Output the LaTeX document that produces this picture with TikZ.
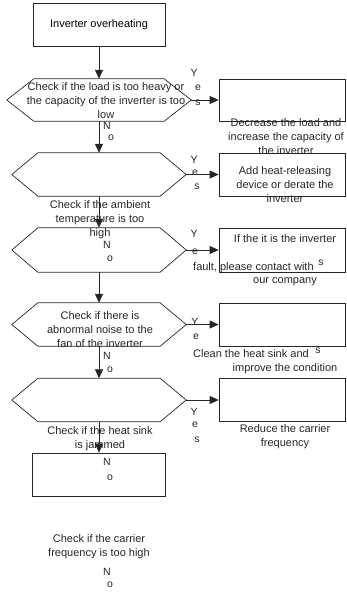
\documentclass[tikz,border=0pt]{standalone}
\usepackage{fontspec}
\setmainfont{Liberation Sans}
\usetikzlibrary{arrows.meta, positioning, calc}

\begin{document}
\begin{tikzpicture}[x=1pt, y=-1pt,
    procbox/.style={draw=black!85, line width=0.7pt, minimum width=126pt,
                    minimum height=43pt, inner sep=0pt, font=\fontsize{11}{14}\selectfont},
    hexbox/.style={minimum width=122pt, minimum height=43pt, inner sep=0pt},
    txt/.style={align=center, inner sep=0pt, text=black!85,
                font=\fontsize{11}{14}\selectfont},
    yn/.style={inner sep=0pt, text=black!85, font=\fontsize{10.5}{12}\selectfont},
    flow/.style={draw=black!85, line width=0.7pt, -{Triangle[length=9pt, width=8pt]}},
]
\useasboundingbox (0,0) rectangle (346,592);

% main column
\node[procbox, minimum width=132pt] (B0) at (99,24.5) {Inverter overheating};
\node[hexbox, minimum width=130pt, minimum height=42pt] (H1) at (99,100) {};
\node[hexbox] (H2) at (99,174.5) {};
\node[hexbox, minimum height=44pt] (H3) at (99,250) {};
\node[hexbox] (H4) at (99,324.5) {};
\node[hexbox] (H5) at (99,400) {};
\node[procbox, minimum width=133pt] (B6) at (99,474.5) {};

% hexagon outlines round the decision nodes
\foreach \h/\s in {H1/27,H2/26,H3/26,H4/26,H5/26} {
  \coordinate (\h-w) at ([xshift=-\s pt]\h.west);
  \coordinate (\h-e) at ([xshift=\s pt]\h.east);
  \draw[black!85, line width=0.7pt] (\h.north west) -- (\h.north east) -- (\h-e)
    -- (\h.south east) -- (\h.south west) -- (\h-w) -- cycle;
}

% action column
\node[procbox, minimum height=42pt] (R1) at (282,100) {};
\node[procbox] (R2) at (282,174.5) {};
\node[procbox, minimum height=44pt] (R3) at (282,250) {};
\node[procbox] (R4) at (282,324.5) {};
\node[procbox] (R5) at (282,400) {};

% texts (as they sit in the picture)
\node[txt] (t1) at (106,100.5) {Check if the load is too heavy or\\the capacity of the inverter is too\\low};
\node[txt] (t1r) at (286,137) {Decrease the load and\\increase the capacity of\\the inverter};
\node[txt] (t2) at (100,220) {Check if the ambient\\temperature is too\\high};
\node[txt] (t2r) at (285,185) {Add heat-releasing\\device or derate the\\inverter};
\node[txt] (t3r) at (285,239) {If the it is the inverter};
\node[txt, anchor=west] (t3f) at (193,268) {fault, please contact with};
\node[txt] (t3c) at (285,282) {our company};
\node[txt] (t4) at (100,329.5) {Check if there is\\abnormal noise to the\\fan of the inverter};
\node[txt, anchor=west] (t4c) at (193,354) {Clean the heat sink and};
\node[txt] (t4i) at (285,369) {improve the condition};
\node[txt] (t5) at (100,439) {Check if the heat sink\\is jammed};
\node[txt] (t5r) at (285,436.5) {Reduce the carrier\\frequency};
\node[txt] (t6) at (99,546.5) {Check if the carrier\\frequency is too high};

% Yes / No letters
\node[yn] (y1) at (194,73) {Y};
\node[yn] (e1) at (198,88) {e};
\node[yn] (s1) at (198,103) {s};
\node[yn] (y2) at (194,160) {Y};
\node[yn] (e2) at (195,173) {e};
\node[yn] (s2) at (197,187) {s};
\node[yn] (y3) at (194,234) {Y};
\node[yn] (e3) at (195,252) {e};
\node[yn] (s3) at (321,263) {s};
\node[yn] (y4) at (195,322) {Y};
\node[yn] (e4) at (196,337) {e};
\node[yn] (s4) at (318,351) {s};
\node[yn] (y5) at (194,412) {Y};
\node[yn] (e5) at (195,425) {e};
\node[yn] (s5) at (197,440) {s};
\node[yn] (n1) at (107,126) {N};
\node[yn] (o1) at (111,138) {o};
\node[yn] (n2) at (107,245) {N};
\node[yn] (o2) at (110,259) {o};
\node[yn] (n3) at (107,356) {N};
\node[yn] (o3) at (110,370) {o};
\node[yn] (n4) at (107,462) {N};
\node[yn] (o4) at (110,478) {o};
\node[yn] (n5) at (107,572) {N};
\node[yn] (o5) at (110,585) {o};

% connectors
\draw[flow] (B0) -- (H1);
\draw[flow] (H1) -- (H2);
\draw[flow] (H2) -- (H3);
\draw[flow] (H3) -- (H4);
\draw[flow] (H4) -- (H5);
\draw[flow] (H5) -- (B6);
\foreach \i in {1,...,5}
  \draw[flow] (H\i-e) -- (R\i);
\end{tikzpicture}
\end{document}
